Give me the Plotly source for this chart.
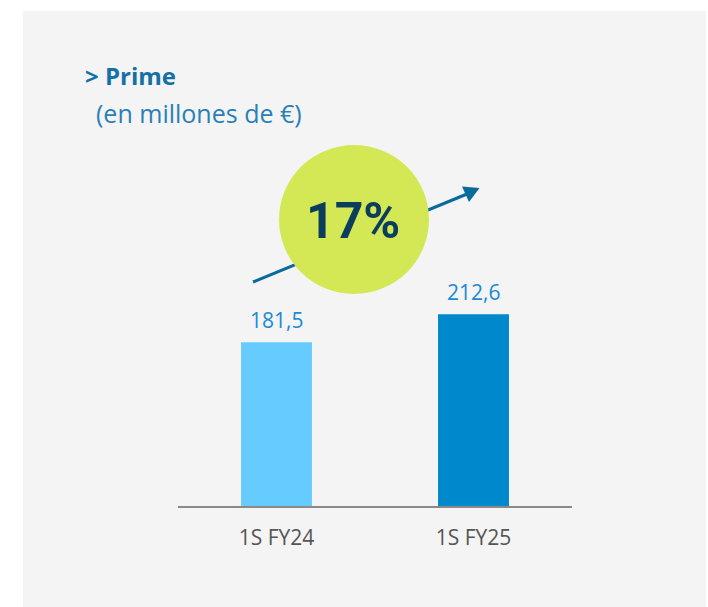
import plotly.graph_objects as go

# ---- data ----
categories = ["1S FY24", "1S FY25"]
values = [181.5, 212.6]
value_labels = ["181,5", "212,6"]
bar_colors = ["#66ccff", "#0088cc"]
growth_label = "17%"
title_text = "> Prime"
subtitle_text = "(en millones de €)"

# ---- layout geometry (pixels) ----
W, H = 708, 607
L, R, T, B = 178, 136, 100, 101
pw = W - L - R
ph = H - T - B


def px(x):
    return (x - L) / pw


def py(y):
    return (H - B - y) / ph


fig = go.Figure()
fig.add_trace(go.Bar(
    x=categories, y=values,
    marker=dict(color=bar_colors, line=dict(width=0)),
    width=0.36,
    hoverinfo="skip",
))

# value labels above bars
annotations = []
for c, v, lab in zip(categories, values, value_labels):
    annotations.append(dict(
        x=c, y=v, xref="x", yref="y", text=lab, showarrow=False,
        yanchor="middle", yshift=22,
        font=dict(family="Open Sans", size=21, color="#1a8ad4"),
    ))

annotations += [
    dict(x=px(83), y=py(75), xref="paper", yref="paper", text="<b>" + title_text.replace(">", "&gt;") + "</b>",
         showarrow=False, xanchor="left", yanchor="middle",
         font=dict(family="Open Sans", size=24, color="#1570a6")),
    dict(x=px(94), y=py(113), xref="paper", yref="paper", text=subtitle_text,
         showarrow=False, xanchor="left", yanchor="middle",
         font=dict(family="Open Sans", size=25, color="#2a80b5")),
    dict(x=px(353), y=py(221), xref="paper", yref="paper", text="<b>" + growth_label + "</b>",
         showarrow=False, xanchor="center", yanchor="middle",
         font=dict(family="Roboto", size=50, color="#0b3d5c")),
]

shapes = [
    # light grey panel
    dict(type="rect", xref="paper", yref="paper", x0=px(23), x1=px(706), y0=py(610), y1=py(11),
         fillcolor="#f4f4f4", line=dict(width=0), layer="below"),
    # arrow shaft
    dict(type="line", xref="paper", yref="paper", x0=px(253), y0=py(282), x1=px(467), y1=py(194),
         line=dict(color="#0a6a9a", width=3)),
    # arrow head
    dict(type="path", xref="paper", yref="paper",
         path=f"M {px(479.5)} {py(188)} L {px(462)} {py(186.5)} L {px(469)} {py(202)} Z",
         fillcolor="#0a6a9a", line=dict(width=0)),
    # growth circle
    dict(type="circle", xref="paper", yref="paper", x0=px(279), x1=px(429), y0=py(294), y1=py(145),
         fillcolor="#d4e856", line=dict(width=0)),
]

fig.update_layout(
    width=W, height=H,
    margin=dict(l=L, r=R, t=T, b=B),
    paper_bgcolor="white", plot_bgcolor="rgba(0,0,0,0)",
    showlegend=False,
    annotations=annotations, shapes=shapes,
    xaxis=dict(range=[-0.5, 1.5], showline=True, linecolor="#8a8a8a", linewidth=1.5,
               showgrid=False, zeroline=False, ticks="outside", ticklen=12,
               tickcolor="rgba(0,0,0,0)",
               tickfont=dict(family="Open Sans", size=21, color="#555555")),
    yaxis=dict(range=[0, 450], visible=False),
)

fig.write_html(
    "out.html",
    config={"displayModeBar": False},
    post_script="document.body.style.margin='0';document.body.style.overflow='hidden';",
)
